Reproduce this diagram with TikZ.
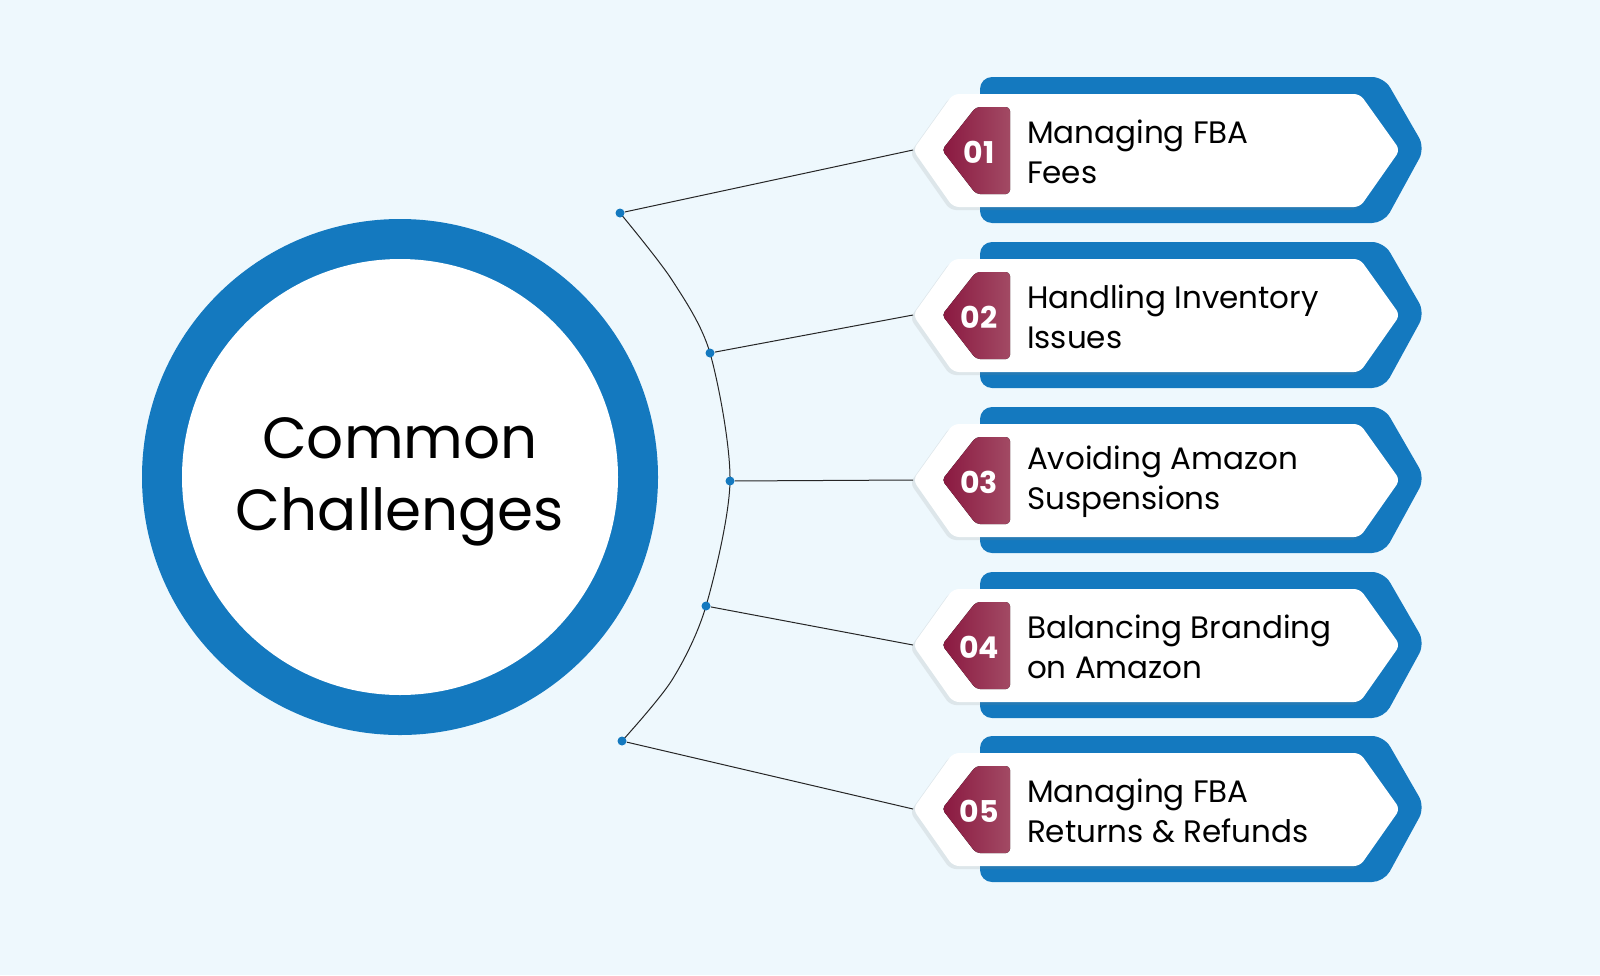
\documentclass[tikz,border=0pt]{standalone}
\usepackage{fontspec}
\setmainfont{Poppins}
\usetikzlibrary{shadows}
\definecolor{bg}{HTML}{EEF8FD}
\definecolor{cblue}{HTML}{1479BF}
\definecolor{crimA}{HTML}{8A1840}
\definecolor{crimB}{HTML}{A24A64}
\tikzset{
  bluehex/.style={fill=cblue, rounded corners=6pt},
  whitehex/.style={fill=white, rounded corners=3pt, drop shadow={shadow xshift=-1.5pt,shadow yshift=-1.5pt,opacity=0.15,fill=gray}},
  numtag/.style={left color=crimA, right color=crimB, rounded corners=2pt},
  conn/.style={draw=black!85, line width=0.5pt},
  dotc/.style={circle, fill=cblue, inner sep=0pt, minimum size=4.5pt},
  itemtxt/.style={anchor=west, align=left, font=\fontsize{15.5}{20}\selectfont},
  numtxt/.style={text=white, font=\bfseries\fontsize{15}{18}\selectfont},
}
\begin{document}
\begin{tikzpicture}[x=0.5pt,y=-0.5pt]
\fill[bg] (0,0) rectangle (1600,975);
\useasboundingbox (0,0) rectangle (1600,975);
% circle
\fill[cblue] (400,477) circle (258);
\fill[white] (400,477) circle (218);
\node[align=center, font=\fontsize{29}{36}\selectfont] (center) at (400,482) {Common\\Challenges};
% arc
\draw[conn] plot[smooth] coordinates {(620,213) (672,280) (710,353) (730,481) (706,606) (672,680) (622,741)};
\node[dotc] (d1) at (620,213) {};
\node[dotc] (d2) at (710,353) {};
\node[dotc] (d3) at (730,481) {};
\node[dotc] (d4) at (706,606) {};
\node[dotc] (d5) at (622,741) {};
\foreach \i/\y/\n/\t in {1/150/01/{Managing FBA\\Fees},2/315/02/{Handling Inventory\\Issues},3/480/03/{Avoiding Amazon\\Suspensions},4/645/04/{Balancing Branding\\on Amazon},5/809/05/{Managing FBA\\Returns \& Refunds}}{
  \begin{scope}[yshift=-\y*0.5pt]
  \fill[bluehex] (980,-73) -- (1384,-73) -- (1425,-2) -- (1384,73) -- (980,73) -- cycle;
  \path[whitehex] (913,0) -- (953,-56) -- (1360,-56) -- (1400,0) -- (1360,57) -- (953,57) -- cycle;
  \fill[numtag] (942,0) -- (976,-43) -- (1010,-43) -- (1010,44) -- (976,44) -- cycle;
  \coordinate (t\i) at (913,0);
  \node[numtxt] (n\i) at (979,2) {\n};
  \node[itemtxt] (l\i) at (1020,2) {\t};
  \end{scope}
}
\draw[conn] (d1) -- (t1);
\draw[conn] (d2) -- (t2);
\draw[conn] (d3) -- (t3);
\draw[conn] (d4) -- (t4);
\draw[conn] (d5) -- (t5);
\end{tikzpicture}
\end{document}
